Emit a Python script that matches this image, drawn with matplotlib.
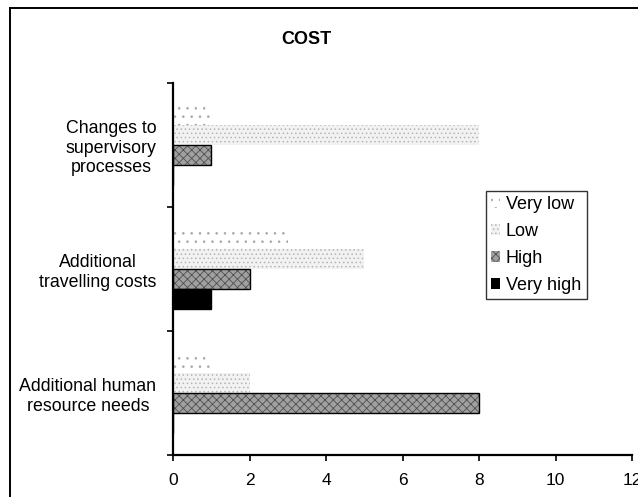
import numpy as np
import matplotlib
matplotlib.use("Agg")
import matplotlib.pyplot as plt
from matplotlib.lines import Line2D

plt.rcParams['font.family'] = ['Liberation Sans', 'DejaVu Sans']
plt.rcParams['hatch.linewidth'] = 0.6

# Data
categories = ["Additional human\nresource needs",
              "Additional\ntravelling costs",
              "Changes to\nsupervisory\nprocesses"]
series = ["Very low", "Low", "High", "Very high"]
very_low = [1, 3, 1]
low = [2, 5, 8]
high = [8, 2, 1]
very_high = [0, 1, 0]
values = [very_low, low, high, very_high]

# styles per series (top to bottom inside each group)
faces = ["white", "#f2f2f2", "#a0a0a0", "black"]
hatches = ["..", "....", "xxxx", None]
hatch_cols = ["#a8a8a8", "#b5b5b5", "#505050", "black"]
edges = ["none", "none", "black", "black"]
offsets = [0.24, 0.08, -0.08, -0.24]
bar_h = 0.16

fig = plt.figure(figsize=(6.38, 4.97), dpi=100)
ax = fig.add_axes([173 / 638, 42 / 497, 459 / 638, 372 / 497])

y = np.arange(len(categories))
for vals, name, fc, ht, hc, ec, off in zip(values, series, faces, hatches,
                                           hatch_cols, edges, offsets):
    ax.barh(y + off, vals, height=bar_h, color=fc, label=name,
            hatch=ht, edgecolor=hc, linewidth=0)
    if ec != "none":
        ax.barh(y + off, vals, height=bar_h, fill=False, edgecolor=ec,
                linewidth=1.0)

ax.set_xlim(0, 12)
ax.set_ylim(-0.5, 2.5)
ax.set_xticks(np.arange(0, 13, 2))
ax.set_yticks(y)
ax.set_yticklabels(categories, multialignment="center")
ax.set_yticks([-0.5, 0.5, 1.5, 2.5], minor=True)
ax.tick_params(axis="y", which="major", length=0, pad=12, labelsize=12.8)
ax.tick_params(axis="y", which="minor", length=4, width=1.2, direction="out")
ax.tick_params(axis="x", length=4, width=1.2, direction="out", pad=9,
               labelsize=12.5)

for s in ["top", "right"]:
    ax.spines[s].set_visible(False)
for s in ["left", "bottom"]:
    ax.spines[s].set_linewidth(1.6)
    ax.spines[s].set_color("black")

fig.text(306 / 638, 1 - 40 / 497, "COST", ha="center", va="center",
         fontsize=13, fontweight="bold")

handles, labels = ax.get_legend_handles_labels()
leg = fig.legend(handles, labels, loc="center left",
                 bbox_to_anchor=(486 / 638, 1 - 245 / 497),
                 fontsize=13, frameon=True, fancybox=False,
                 handlelength=0.5, handleheight=0.5, handletextpad=0.3,
                 labelspacing=0.55, borderpad=0.3, borderaxespad=0)
leg.get_frame().set_edgecolor("black")
leg.get_frame().set_linewidth(1.0)

# chart area border (scan shows only top and left edges)
fig.add_artist(Line2D([10 / 638, 1.0], [1 - 8 / 497, 1 - 8 / 497],
                      transform=fig.transFigure, color="black", lw=1.4))
fig.add_artist(Line2D([10 / 638, 10 / 638], [0, 1 - 8 / 497],
                      transform=fig.transFigure, color="black", lw=1.4))

fig.savefig("out.png", dpi=100)
